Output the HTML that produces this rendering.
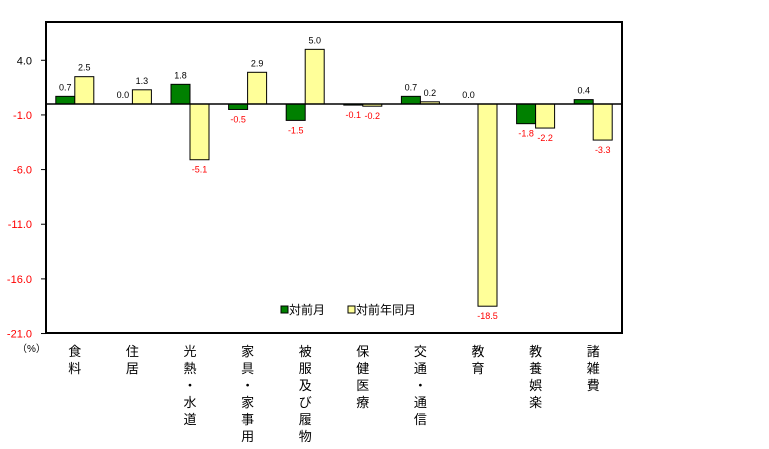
<!DOCTYPE html>
<html><head><meta charset="utf-8"><style>
body{margin:0;background:#fff;}
svg text{font-family:"Liberation Sans","Noto Sans CJK JP",sans-serif;}
</style></head><body>
<svg width="769" height="444" viewBox="0 0 769 444" id="chart">
<rect x="0" y="0" width="769" height="444" fill="#fff"/>
</svg>
<script>
const categories=["食料","住居","光熱・水道","家具・家事用品","被服及び履物","保健医療","交通・通信","教育","教養娯楽","諸雑費"];
const momValues=[0.7,0.0,1.8,-0.5,-1.5,-0.1,0.7,0.0,-1.8,0.4];
const yoyValues=[2.5,1.3,-5.1,2.9,5.0,-0.2,0.2,-18.5,-2.2,-3.3];
const tickValues=[4.0,-1.0,-6.0,-11.0,-16.0,-21.0];
const NS="http://www.w3.org/2000/svg";
const svg=document.getElementById('chart');
const L=46,R=622,T=22,B=333,Z=104,K=10.93;
const y=v=>Z-v*K;
const gw=(R-L)/categories.length;
const gx=i=>L+i*gw+gw/2;
function mk(tag,attrs,parent){const e=document.createElementNS(NS,tag);for(const k in attrs)e.setAttribute(k,attrs[k]);(parent||svg).appendChild(e);return e;}
const frame=mk('rect',{x:L,y:T,width:R-L,height:B-T,fill:'none',stroke:'#000','stroke-width':2});


tickValues.forEach(v=>{
 const t=mk('line',{x1:L-5,x2:L,y1:y(v),y2:y(v),stroke:'#000'});
 
 
 const tx=mk('text',{x:L-14,y:y(v)+4,'text-anchor':'end','font-size':11,fill:v>0?'#000':'#f00'});
 tx.textContent=v.toFixed(1);
 
 
});
const unit=mk('text',{x:17,y:352,'font-size':10,fill:'#000'});unit.textContent='（%）';


function bar(v,x,fill,name){
 const top=Math.min(y(v),Z),h=Math.abs(y(v)-Z);
 if(h>0.5){const r=mk('rect',{x:x,y:top,width:19,height:h,fill:fill,stroke:'#000','stroke-width':1});
 
 }
 const lbl=mk('text',{x:x+9.5,y:v>=0?y(v)-6:y(v)+13,'text-anchor':'middle','font-size':9,fill:v<0?'#f00':'#000'});
 lbl.textContent=v.toFixed(1);
 
 
}
categories.forEach((c,i)=>{
 bar(momValues[i],gx(i)-19,'#008000','bar-mom');
 bar(yoyValues[i],gx(i),'#ffff99','bar-yoy');
 const chars=[...c];
 chars.forEach((ch,j)=>{
  const t=mk('text',{x:gx(i),y:356+j*17,'text-anchor':'middle','font-size':13,fill:'#000'});
  t.textContent=ch==='・'?'・':ch;
  
  
 });
});
const zl=mk('line',{x1:L,x2:R,y1:Z,y2:Z,stroke:'#000','stroke-width':1.5});


const lg=mk('g',{});


const s1=mk('rect',{x:281,y:306,width:7,height:7,fill:'#008000',stroke:'#000'},lg);


const l1=mk('text',{x:289,y:314,'font-size':12},lg);l1.textContent='対前月';


const s2=mk('rect',{x:348,y:306,width:7,height:7,fill:'#ffff99',stroke:'#000'},lg);


const l2=mk('text',{x:356,y:314,'font-size':12},lg);l2.textContent='対前年同月';


</script>
</body></html>
